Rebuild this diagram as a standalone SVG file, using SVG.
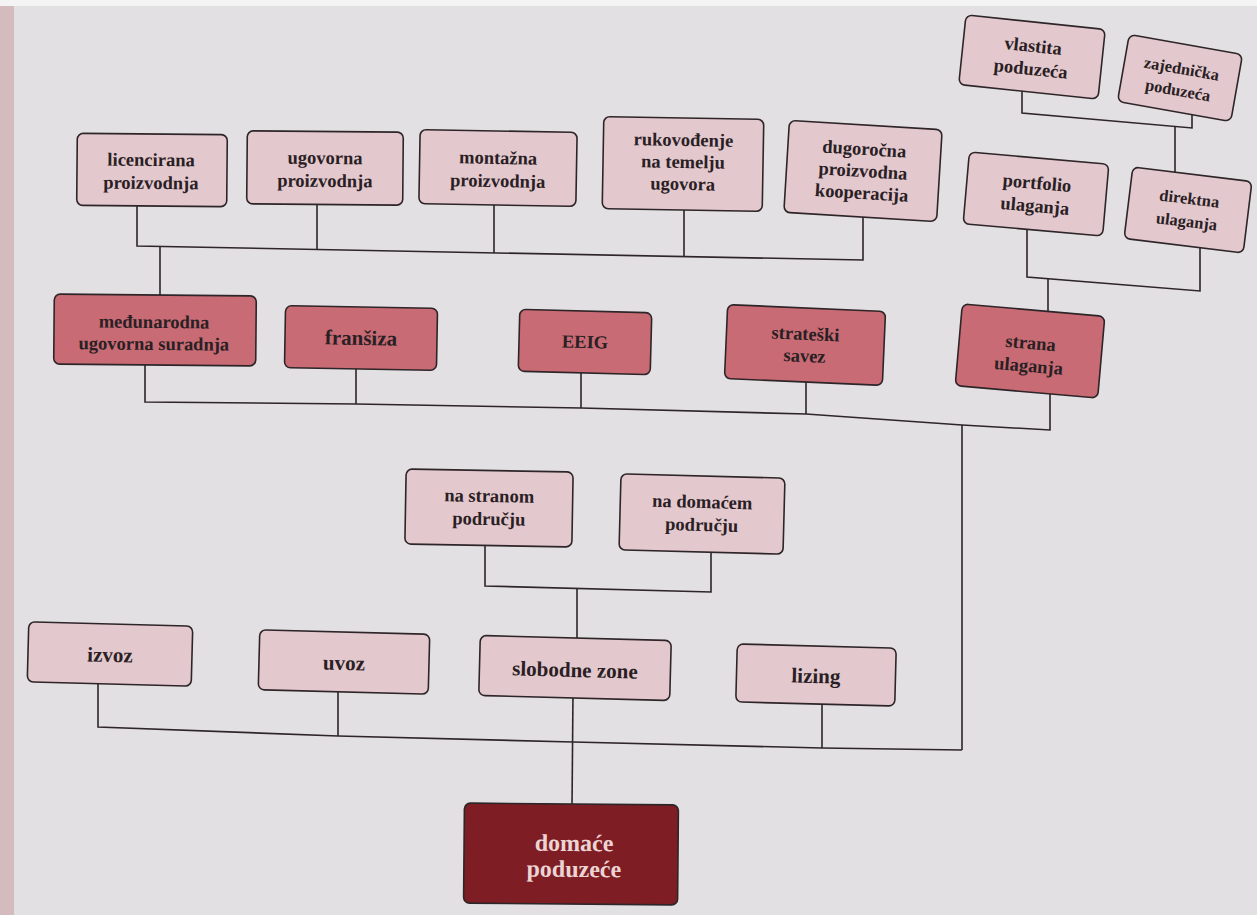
<svg xmlns="http://www.w3.org/2000/svg" width="1257" height="915" viewBox="0 0 1257 915">
<defs>
<style>
.bg{fill:#e2e0e2}
.c{fill:none;stroke:#2e2528;stroke-width:1.6;stroke-linejoin:miter}
.b rect{stroke:#2e2528;stroke-width:1.6}
.l rect{fill:#e3c9ce}
.m rect{fill:#c86b74}
.d rect{fill:#7e1e24}
text{font-family:"Liberation Serif","DejaVu Serif",serif;font-weight:bold;font-size:18.5px;fill:#2a2024;text-anchor:middle}
.d text{fill:#ecd4d4;font-size:24px}
.s text{font-size:16.5px}
.g text{font-size:21px}
</style>
</defs>
<rect class="bg" x="0" y="0" width="1257" height="915"/>
<rect x="0" y="0" width="1257" height="6" fill="#f4f4f4"/>
<rect x="0" y="6" width="14" height="909" fill="#d4bcbe"/>

<g id="connectors">
<polyline class="c" points="137,200 137,246 863,260 863,215"/>
<polyline class="c" points="317,200 317,249.5"/>
<polyline class="c" points="494,200 494,253"/>
<polyline class="c" points="684,205 684,256.5"/>
<polyline class="c" points="160,246.4 160,300"/>
<polyline class="c" points="145,360 145,402 356,404 581,408 806,414 962,425 1050,430 1050,390"/>
<polyline class="c" points="356,364 356,404"/>
<polyline class="c" points="581,368 581,408"/>
<polyline class="c" points="806,378 806,414"/>
<polyline class="c" points="962,425 962,750"/>
<polyline class="c" points="98,680 98,727 338,736 573,742 822,748 962,750"/>
<polyline class="c" points="338,688 338,736"/>
<polyline class="c" points="822,700 822,748"/>
<polyline class="c" points="573,692 572,808"/>
<polyline class="c" points="485,540 485,586 711,592 711,548"/>
<polyline class="c" points="577,589 577,645"/>
<polyline class="c" points="1027,225 1027,277 1200,291 1200,245"/>
<polyline class="c" points="1048,278 1048,312"/>
<polyline class="c" points="1022,88 1022,113 1192,128 1192,110"/>
<polyline class="c" points="1175,126.5 1175,176"/>
</g>

<g id="licencirana" class="b l" transform="rotate(0.5 152 170)">
<rect x="77" y="134" width="150" height="72" rx="6"/>
<text x="151" y="166">licencirana</text><text x="151" y="189">proizvodnja</text>
</g>
<g id="ugovorna" class="b l" transform="rotate(0.5 325 168)">
<rect x="247" y="131.5" width="156" height="73" rx="6"/>
<text x="325" y="164">ugovorna</text><text x="325" y="187">proizvodnja</text>
</g>
<g id="montazna" class="b l" transform="rotate(1 498 168)">
<rect x="419.5" y="131" width="157" height="74" rx="6"/>
<text x="498" y="164">montažna</text><text x="498" y="187">proizvodnja</text>
</g>
<g id="rukovodenje" class="b l" transform="rotate(1 683 164)">
<rect x="603" y="118" width="160" height="92" rx="6"/>
<text x="683" y="146">rukovođenje</text><text x="683" y="168">na temelju</text><text x="683" y="190">ugovora</text>
</g>
<g id="dugorocna" class="b l" transform="rotate(3.5 863 171)">
<rect x="786.5" y="125" width="153" height="92" rx="6"/>
<text x="863" y="155">dugoročna</text><text x="863" y="177">proizvodna</text><text x="863" y="199">kooperacija</text>
</g>
<g id="portfolio" class="b l" transform="rotate(5 1036 194)">
<rect x="966" y="158" width="140" height="72" rx="6"/>
<text x="1036" y="189">portfolio</text><text x="1036" y="212">ulaganja</text>
</g>
<g id="direktna" class="b l s" transform="rotate(7 1188 210)">
<rect x="1128" y="174" width="120" height="72" rx="6"/>
<text x="1188" y="204">direktna</text><text x="1188" y="227">ulaganja</text>
</g>
<g id="vlastita" class="b l" transform="rotate(6 1032 57)">
<rect x="962" y="22" width="140" height="70" rx="6"/>
<text x="1032" y="52">vlastita</text><text x="1032" y="75">poduzeća</text>
</g>
<g id="zajednicka" class="b l s" transform="rotate(10 1180 78)">
<rect x="1122.5" y="44" width="115" height="68" rx="6"/>
<text x="1180" y="74">zajednička</text><text x="1180" y="96">poduzeća</text>
</g>

<g id="medunarodna" class="b m" transform="rotate(0.5 155 330)">
<rect x="54" y="295" width="202" height="70" rx="6"/>
<text x="154" y="328">međunarodna</text><text x="154" y="350">ugovorna suradnja</text>
</g>
<g id="fransiza" class="b m g" transform="rotate(1 361 338)">
<rect x="285" y="307" width="152" height="62" rx="6"/>
<text x="361" y="345">franšiza</text>
</g>
<g id="eeig" class="b m" transform="rotate(1.5 585 342)">
<rect x="519" y="311" width="132" height="62" rx="6"/>
<text x="585" y="348">EEIG</text>
</g>
<g id="strateski" class="b m" transform="rotate(2.5 805 345)">
<rect x="726" y="308" width="158" height="74" rx="6"/>
<text x="805" y="340">strateški</text><text x="805" y="362">savez</text>
</g>
<g id="strana" class="b m" transform="rotate(5 1030 351)">
<rect x="958.5" y="310" width="143" height="82" rx="6"/>
<text x="1030" y="349">strana</text><text x="1030" y="372">ulaganja</text>
</g>

<g id="na-stranom" class="b l" transform="rotate(1 489 508)">
<rect x="405.5" y="470.5" width="167" height="75" rx="6"/>
<text x="489" y="502">na stranom</text><text x="489" y="525">području</text>
</g>
<g id="na-domacem" class="b l" transform="rotate(1.5 702 514)">
<rect x="620" y="476" width="164" height="76" rx="6"/>
<text x="702" y="508">na domaćem</text><text x="702" y="531">području</text>
</g>

<g id="izvoz" class="b l g" transform="rotate(1.5 110 654)">
<rect x="28" y="624" width="164" height="60" rx="6"/>
<text x="110" y="662">izvoz</text>
</g>
<g id="uvoz" class="b l g" transform="rotate(1.5 344 662)">
<rect x="259" y="632" width="170" height="60" rx="6"/>
<text x="344" y="670">uvoz</text>
</g>
<g id="slobodne-zone" class="b l g" transform="rotate(1.5 575 668)">
<rect x="479.5" y="638" width="191" height="60" rx="6"/>
<text x="575" y="677">slobodne zone</text>
</g>
<g id="lizing" class="b l g" transform="rotate(1.5 816 675)">
<rect x="736.5" y="646" width="159" height="58" rx="6"/>
<text x="816" y="683">lizing</text>
</g>

<g id="domace-poduzece" class="b d" transform="rotate(0.5 571 854)">
<rect x="464" y="804" width="214" height="100" rx="6"/>
<text x="574" y="851">domaće</text><text x="574" y="877">poduzeće</text>
</g>
</svg>
